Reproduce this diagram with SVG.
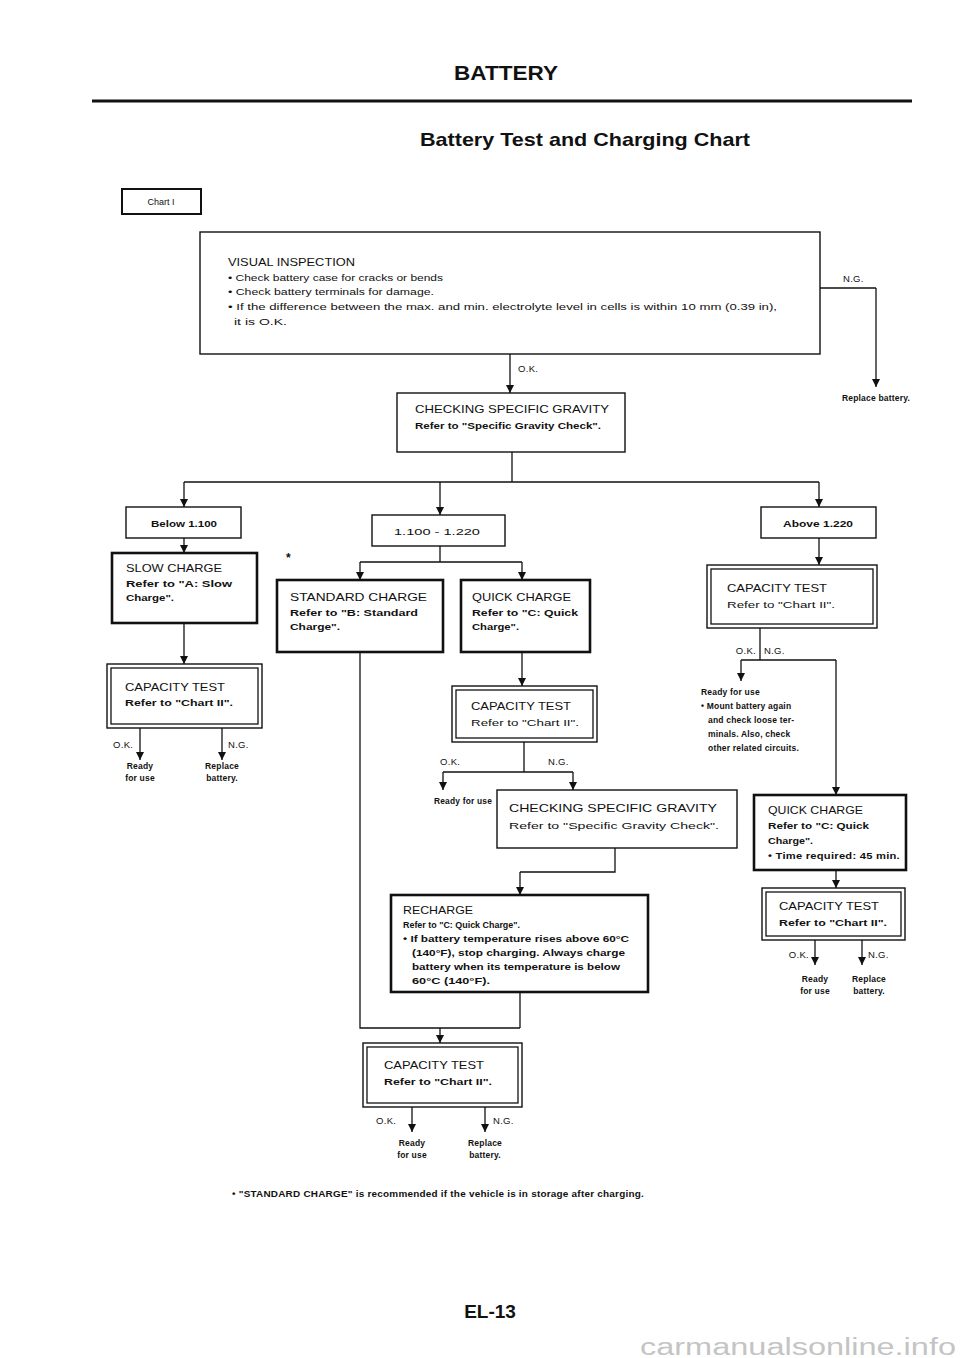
<svg xmlns="http://www.w3.org/2000/svg" width="960" height="1358" viewBox="0 0 960 1358">
<style>
text{font-family:"Liberation Sans",Arial,sans-serif;fill:#111}
.h{font-size:10.5px}
.s{font-size:9.5px}
.b{font-weight:bold}
.sm{font-size:8.5px;font-weight:bold;letter-spacing:0.2px}
.lbl{font-size:9.5px;letter-spacing:0.3px}
.box{fill:#fff;stroke:#111;stroke-width:1.4}
.thick{fill:#fff;stroke:#111;stroke-width:2.6}
.in{fill:none;stroke:#111;stroke-width:1.3}
.c{fill:none;stroke:#111;stroke-width:1.3}
.ca{fill:none;stroke:#111;stroke-width:1.3;marker-end:url(#ah)}
.m{text-anchor:middle}
</style>
<defs>
<marker id="ah" viewBox="0 0 10 10" refX="10" refY="5" markerWidth="9" markerHeight="8" markerUnits="userSpaceOnUse" orient="auto">
<path d="M0,0 L10,5 L0,10 z" fill="#111"/>
</marker>
</defs>
<rect width="960" height="1358" fill="#fff"/>

<g id="header">
<text x="506" y="80" class="b m" style="font-size:20px" textLength="104" lengthAdjust="spacingAndGlyphs">BATTERY</text>
<line x1="92" y1="101" x2="912" y2="101" stroke="#111" stroke-width="3"/>
<text x="585" y="146" class="b m" style="font-size:19px" textLength="330" lengthAdjust="spacingAndGlyphs">Battery Test and Charging Chart</text>
</g>

<g id="chart1">
<rect x="122" y="189" width="79" height="25" class="thick" style="stroke-width:2"/>
<text x="161" y="205" class="m" style="font-size:9px">Chart I</text>
</g>

<g id="connectors">
<path class="c" d="M820,288 H876"/>
<path class="ca" d="M876,288 V387"/>
<path class="ca" d="M510,354 V393"/>
<path class="c" d="M512,452 V482 M184,482 H819"/>
<path class="ca" d="M184,482 V507"/>
<path class="ca" d="M440,482 V515"/>
<path class="ca" d="M819,482 V507"/>
<path class="ca" d="M184,538 V553"/>
<path class="ca" d="M184,623 V664"/>
<path class="ca" d="M140,728 V760"/>
<path class="ca" d="M222,728 V760"/>
<path class="c" d="M440,546 V562 M360,562 H522"/>
<path class="ca" d="M360,562 V580"/>
<path class="ca" d="M522,562 V580"/>
<path class="ca" d="M522,652 V686"/>
<path class="c" d="M524,742 V772 M443,772 H573"/>
<path class="ca" d="M443,772 V790"/>
<path class="ca" d="M573,772 V790"/>
<path class="c" d="M615,848 V872 H520"/>
<path class="ca" d="M520,872 V895"/>
<path class="c" d="M520,992 V1028 M360,652 V1028 H520"/>
<path class="ca" d="M440,1028 V1043"/>
<path class="ca" d="M412,1107 V1132"/>
<path class="ca" d="M485,1107 V1132"/>
<path class="ca" d="M819,538 V565"/>
<path class="c" d="M760,628 V660 M741,660 H836"/>
<path class="ca" d="M741,660 V681"/>
<path class="ca" d="M836,660 V795"/>
<path class="ca" d="M836,870 V888"/>
<path class="ca" d="M815,940 V965"/>
<path class="ca" d="M862,940 V965"/>
</g>

<g id="visual">
<rect x="200" y="232" width="620" height="122" class="box"/>
<text x="228" y="266" class="h" textLength="127" lengthAdjust="spacingAndGlyphs">VISUAL INSPECTION</text>
<text x="228" y="281" class="s" textLength="215" lengthAdjust="spacingAndGlyphs">• Check battery case for cracks or bends</text>
<text x="228" y="295" class="s" textLength="206" lengthAdjust="spacingAndGlyphs">• Check battery terminals for damage.</text>
<text x="228" y="310" class="s" textLength="549" lengthAdjust="spacingAndGlyphs">• If the difference between the max. and min. electrolyte level in cells is within 10 mm (0.39 in),</text>
<text x="234" y="325" class="s" textLength="53" lengthAdjust="spacingAndGlyphs">it is O.K.</text>
</g>

<g id="vi-labels">
<text x="843" y="282" class="lbl">N.G.</text>
<text x="876" y="401" class="sm m">Replace battery.</text>
<text x="518" y="372" class="lbl">O.K.</text>
</g>

<g id="csg1">
<rect x="397" y="393" width="228" height="59" class="box"/>
<text x="415" y="413" class="h" textLength="194" lengthAdjust="spacingAndGlyphs">CHECKING SPECIFIC GRAVITY</text>
<text x="415" y="429" class="s b" textLength="186" lengthAdjust="spacingAndGlyphs">Refer to "Specific Gravity Check".</text>
</g>

<g id="below">
<rect x="126" y="507" width="115" height="31" class="box"/>
<text x="184" y="527" class="s m b" textLength="66" lengthAdjust="spacingAndGlyphs">Below 1.100</text>
</g>

<g id="mid">
<rect x="372" y="515" width="133" height="31" class="box"/>
<text x="437" y="535" class="s m" textLength="86" lengthAdjust="spacingAndGlyphs">1.100 - 1.220</text>
</g>

<g id="above">
<rect x="761" y="507" width="115" height="31" class="box"/>
<text x="818" y="527" class="s m b" textLength="70" lengthAdjust="spacingAndGlyphs">Above 1.220</text>
</g>

<g id="slow">
<rect x="112" y="553" width="145" height="70" class="thick"/>
<text x="126" y="572" class="h" textLength="96" lengthAdjust="spacingAndGlyphs">SLOW CHARGE</text>
<text x="126" y="587" class="s b" textLength="106" lengthAdjust="spacingAndGlyphs">Refer to "A: Slow</text>
<text x="126" y="601" class="s b" textLength="48" lengthAdjust="spacingAndGlyphs">Charge".</text>
</g>

<g id="cap-left">
<rect x="107" y="664" width="155" height="64" class="box"/>
<rect x="111" y="668" width="147" height="56" class="in"/>
<text x="125" y="691" class="h" textLength="100" lengthAdjust="spacingAndGlyphs">CAPACITY TEST</text>
<text x="125" y="706" class="s b" textLength="108" lengthAdjust="spacingAndGlyphs">Refer to "Chart II".</text>
<text x="113" y="748" class="lbl">O.K.</text>
<text x="228" y="748" class="lbl">N.G.</text>
<text x="140" y="769" class="sm m">Ready</text>
<text x="140" y="781" class="sm m">for use</text>
<text x="222" y="769" class="sm m">Replace</text>
<text x="222" y="781" class="sm m">battery.</text>
</g>

<g id="star">
<text x="286" y="562" class="b" style="font-size:12px">*</text>
</g>

<g id="standard">
<rect x="277" y="580" width="166" height="72" class="thick"/>
<text x="290" y="601" class="h" textLength="137" lengthAdjust="spacingAndGlyphs">STANDARD CHARGE</text>
<text x="290" y="616" class="s b" textLength="128" lengthAdjust="spacingAndGlyphs">Refer to "B: Standard</text>
<text x="290" y="630" class="s b" textLength="50" lengthAdjust="spacingAndGlyphs">Charge".</text>
</g>

<g id="quick">
<rect x="461" y="580" width="129" height="72" class="thick"/>
<text x="472" y="601" class="h" textLength="99" lengthAdjust="spacingAndGlyphs">QUICK CHARGE</text>
<text x="472" y="616" class="s b" textLength="106" lengthAdjust="spacingAndGlyphs">Refer to "C: Quick</text>
<text x="472" y="630" class="s b" textLength="47" lengthAdjust="spacingAndGlyphs">Charge".</text>
</g>

<g id="cap-mid">
<rect x="452" y="686" width="145" height="56" class="box"/>
<rect x="456" y="690" width="137" height="48" class="in"/>
<text x="471" y="710" class="h" textLength="100" lengthAdjust="spacingAndGlyphs">CAPACITY TEST</text>
<text x="471" y="726" class="s" textLength="108" lengthAdjust="spacingAndGlyphs">Refer to "Chart II".</text>
<text x="440" y="765" class="lbl">O.K.</text>
<text x="548" y="765" class="lbl">N.G.</text>
<text x="434" y="804" class="sm" textLength="58" lengthAdjust="spacingAndGlyphs">Ready for use</text>
</g>

<g id="csg2">
<rect x="497" y="790" width="240" height="58" class="box"/>
<text x="509" y="812" class="h" textLength="208" lengthAdjust="spacingAndGlyphs">CHECKING SPECIFIC GRAVITY</text>
<text x="509" y="829" class="s" textLength="210" lengthAdjust="spacingAndGlyphs">Refer to "Specific Gravity Check".</text>
</g>

<g id="recharge">
<rect x="391" y="895" width="257" height="97" class="thick"/>
<text x="403" y="914" class="h" textLength="70" lengthAdjust="spacingAndGlyphs">RECHARGE</text>
<text x="403" y="928" class="s b" textLength="117" lengthAdjust="spacingAndGlyphs">Refer to "C: Quick Charge".</text>
<text x="403" y="942" class="s b" textLength="226" lengthAdjust="spacingAndGlyphs">• If battery temperature rises above 60°C</text>
<text x="412" y="956" class="s b" textLength="213" lengthAdjust="spacingAndGlyphs">(140°F), stop charging. Always charge</text>
<text x="412" y="970" class="s b" textLength="208" lengthAdjust="spacingAndGlyphs">battery when its temperature is below</text>
<text x="412" y="984" class="s b" textLength="78" lengthAdjust="spacingAndGlyphs">60°C (140°F).</text>
</g>

<g id="cap-bottom">
<rect x="363" y="1043" width="159" height="64" class="box"/>
<rect x="367" y="1047" width="151" height="56" class="in"/>
<text x="384" y="1069" class="h" textLength="100" lengthAdjust="spacingAndGlyphs">CAPACITY TEST</text>
<text x="384" y="1085" class="s b" textLength="108" lengthAdjust="spacingAndGlyphs">Refer to "Chart II".</text>
<text x="376" y="1124" class="lbl">O.K.</text>
<text x="493" y="1124" class="lbl">N.G.</text>
<text x="412" y="1146" class="sm m">Ready</text>
<text x="412" y="1158" class="sm m">for use</text>
<text x="485" y="1146" class="sm m">Replace</text>
<text x="485" y="1158" class="sm m">battery.</text>
</g>

<g id="cap-right1">
<rect x="707" y="565" width="170" height="63" class="box"/>
<rect x="711" y="569" width="162" height="55" class="in"/>
<text x="727" y="592" class="h" textLength="100" lengthAdjust="spacingAndGlyphs">CAPACITY TEST</text>
<text x="727" y="608" class="s" textLength="108" lengthAdjust="spacingAndGlyphs">Refer to "Chart II".</text>
<text x="756" y="654" class="lbl" text-anchor="end">O.K.</text>
<text x="764" y="654" class="lbl">N.G.</text>
</g>

<g id="ready-right">
<text x="701" y="695" class="sm">Ready for use</text>
<text x="701" y="709" class="sm">• Mount battery again</text>
<text x="708" y="723" class="sm">and check loose ter-</text>
<text x="708" y="737" class="sm">minals.  Also, check</text>
<text x="708" y="751" class="sm">other related circuits.</text>
</g>

<g id="quick-right">
<rect x="754" y="795" width="152" height="75" class="thick"/>
<text x="768" y="814" class="h" textLength="95" lengthAdjust="spacingAndGlyphs">QUICK CHARGE</text>
<text x="768" y="829" class="s b" textLength="101" lengthAdjust="spacingAndGlyphs">Refer to "C: Quick</text>
<text x="768" y="844" class="s b" textLength="45" lengthAdjust="spacingAndGlyphs">Charge".</text>
<text x="768" y="859" class="sm" textLength="132" lengthAdjust="spacingAndGlyphs">• Time required: 45 min.</text>
</g>

<g id="cap-right2">
<rect x="762" y="888" width="143" height="52" class="box"/>
<rect x="766" y="892" width="135" height="44" class="in"/>
<text x="779" y="910" class="h" textLength="100" lengthAdjust="spacingAndGlyphs">CAPACITY TEST</text>
<text x="779" y="926" class="s b" textLength="108" lengthAdjust="spacingAndGlyphs">Refer to "Chart II".</text>
<text x="809" y="958" class="lbl" text-anchor="end">O.K.</text>
<text x="868" y="958" class="lbl">N.G.</text>
<text x="815" y="982" class="sm m">Ready</text>
<text x="815" y="994" class="sm m">for use</text>
<text x="869" y="982" class="sm m">Replace</text>
<text x="869" y="994" class="sm m">battery.</text>
</g>

<g id="footer">
<text x="232" y="1197" class="sm" textLength="412" lengthAdjust="spacingAndGlyphs">• "STANDARD CHARGE" is recommended if the vehicle is in storage after charging.</text>
<text x="490" y="1318" class="b m" style="font-size:19px">EL-13</text>
<text x="640" y="1355" style="font-size:23px;fill:#c4c4c4" textLength="316" lengthAdjust="spacingAndGlyphs">carmanualsonline.info</text>
</g>
</svg>
